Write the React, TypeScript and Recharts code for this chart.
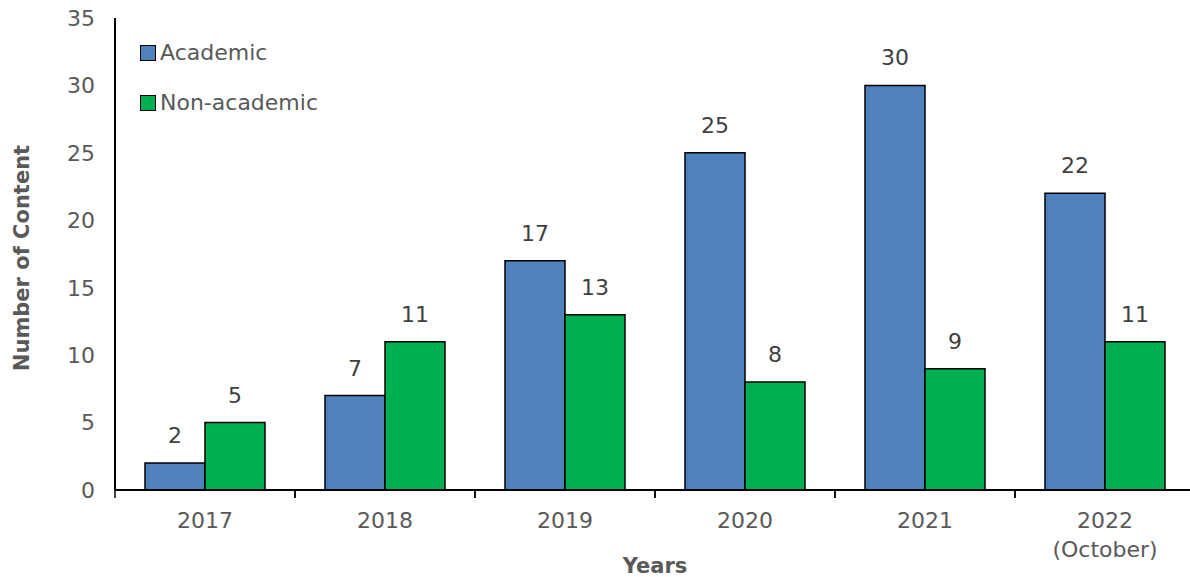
import { BarChart, Bar, XAxis, YAxis, LabelList } from 'recharts'

const years = ['2017', '2018', '2019', '2020', '2021', '2022']
const yearNotes = ['', '', '', '', '', '(October)']
const academic = [2, 7, 17, 25, 30, 22]
const nonAcademic = [5, 11, 13, 8, 9, 11]
const yTicks = [0, 5, 10, 15, 20, 25, 30, 35]

const data = years.map((y, i) => ({
  year: y,
  Academic: academic[i],
  'Non-academic': nonAcademic[i],
}))

const FONT = '"DejaVu Sans", sans-serif'
const GREY = '#595959'
const BLUE = '#4F81BD'
const GREEN = '#00B050'

// year label plus a tick mark on the category boundaries (Excel style)
function YearTick({ x, y, payload, index }: any) {
  const note = yearNotes[index]
  const half = payload && payload.offset ? payload.offset : 90
  return (
    <g transform={`translate(${x},${y})`}>
      <line x1={-half} x2={-half} y1={0} y2={8} stroke="#000" strokeWidth={1.5} />
      <line x1={half} x2={half} y1={0} y2={8} stroke="#000" strokeWidth={1.5} />
      <text textAnchor="middle" y={38} fontSize={22} fill={GREY} fontFamily={FONT}>
        {payload.value}
      </text>
      {note && (
        <text textAnchor="middle" y={67} fontSize={22} fill={GREY} fontFamily={FONT}>
          {note}
        </text>
      )}
    </g>
  )
}

function LegendBox() {
  const items = [
    { name: 'Academic', color: BLUE, top: 40 },
    { name: 'Non-academic', color: GREEN, top: 90 },
  ]
  return (
    <>
      {items.map(it => (
        <div
          key={it.name}
          style={{
            position: 'absolute', left: 140, top: it.top, display: 'flex',
            alignItems: 'center', fontFamily: FONT, fontSize: 22, color: GREY,
          }}
        >
          <span style={{
            width: 14, height: 14, background: it.color, border: '1.5px solid #000',
            marginRight: 4, display: 'inline-block',
          }} />
          {it.name}
        </div>
      ))}
    </>
  )
}

export default function App() {
  return (
    <div style={{ position: 'absolute', left: 0, top: 0, width: 1190, height: 577, background: '#fff', overflow: 'hidden' }}>
      <BarChart
        width={1195}
        height={577}
        data={data}
        margin={{ top: 18, right: 0, left: 15, bottom: 0 }}
        barGap={0}
      >
        <XAxis
          dataKey="year"
          tick={<YearTick />}
          axisLine={{ stroke: '#000', strokeWidth: 2 }}
          tickLine={false}
          tickSize={0}
          tickMargin={0}
          interval={0}
          height={87}
        />
        <YAxis
          domain={[0, 35]}
          ticks={yTicks}
          width={100}
          axisLine={{ stroke: '#000', strokeWidth: 2 }}
          tickLine={false}
          tick={{ fontSize: 22, fill: GREY, fontFamily: FONT, dx: -12 }}
        />
        <Bar dataKey="Academic" fill={BLUE} stroke="#000" strokeWidth={1.5} barSize={60} isAnimationActive={false}>
          <LabelList dataKey="Academic" position="top" offset={20} fontSize={22} fill="#404040" fontFamily={FONT} />
        </Bar>
        <Bar dataKey="Non-academic" fill={GREEN} stroke="#000" strokeWidth={1.5} barSize={60} isAnimationActive={false}>
          <LabelList dataKey="Non-academic" position="top" offset={20} fontSize={22} fill="#404040" fontFamily={FONT} />
        </Bar>
      </BarChart>
      <LegendBox />
      <div style={{
        position: 'absolute', left: 22, top: 258, transform: 'translate(-50%,-50%) rotate(-90deg)',
        fontFamily: FONT, fontWeight: 700, fontSize: 21, color: GREY, whiteSpace: 'nowrap',
      }}>
        Number of Content
      </div>
      <div style={{
        position: 'absolute', left: 655, top: 566, transform: 'translate(-50%,-50%)',
        fontFamily: FONT, fontWeight: 700, fontSize: 21, color: GREY, whiteSpace: 'nowrap',
        lineHeight: '22px',
      }}>
        Years
      </div>
    </div>
  )
}
